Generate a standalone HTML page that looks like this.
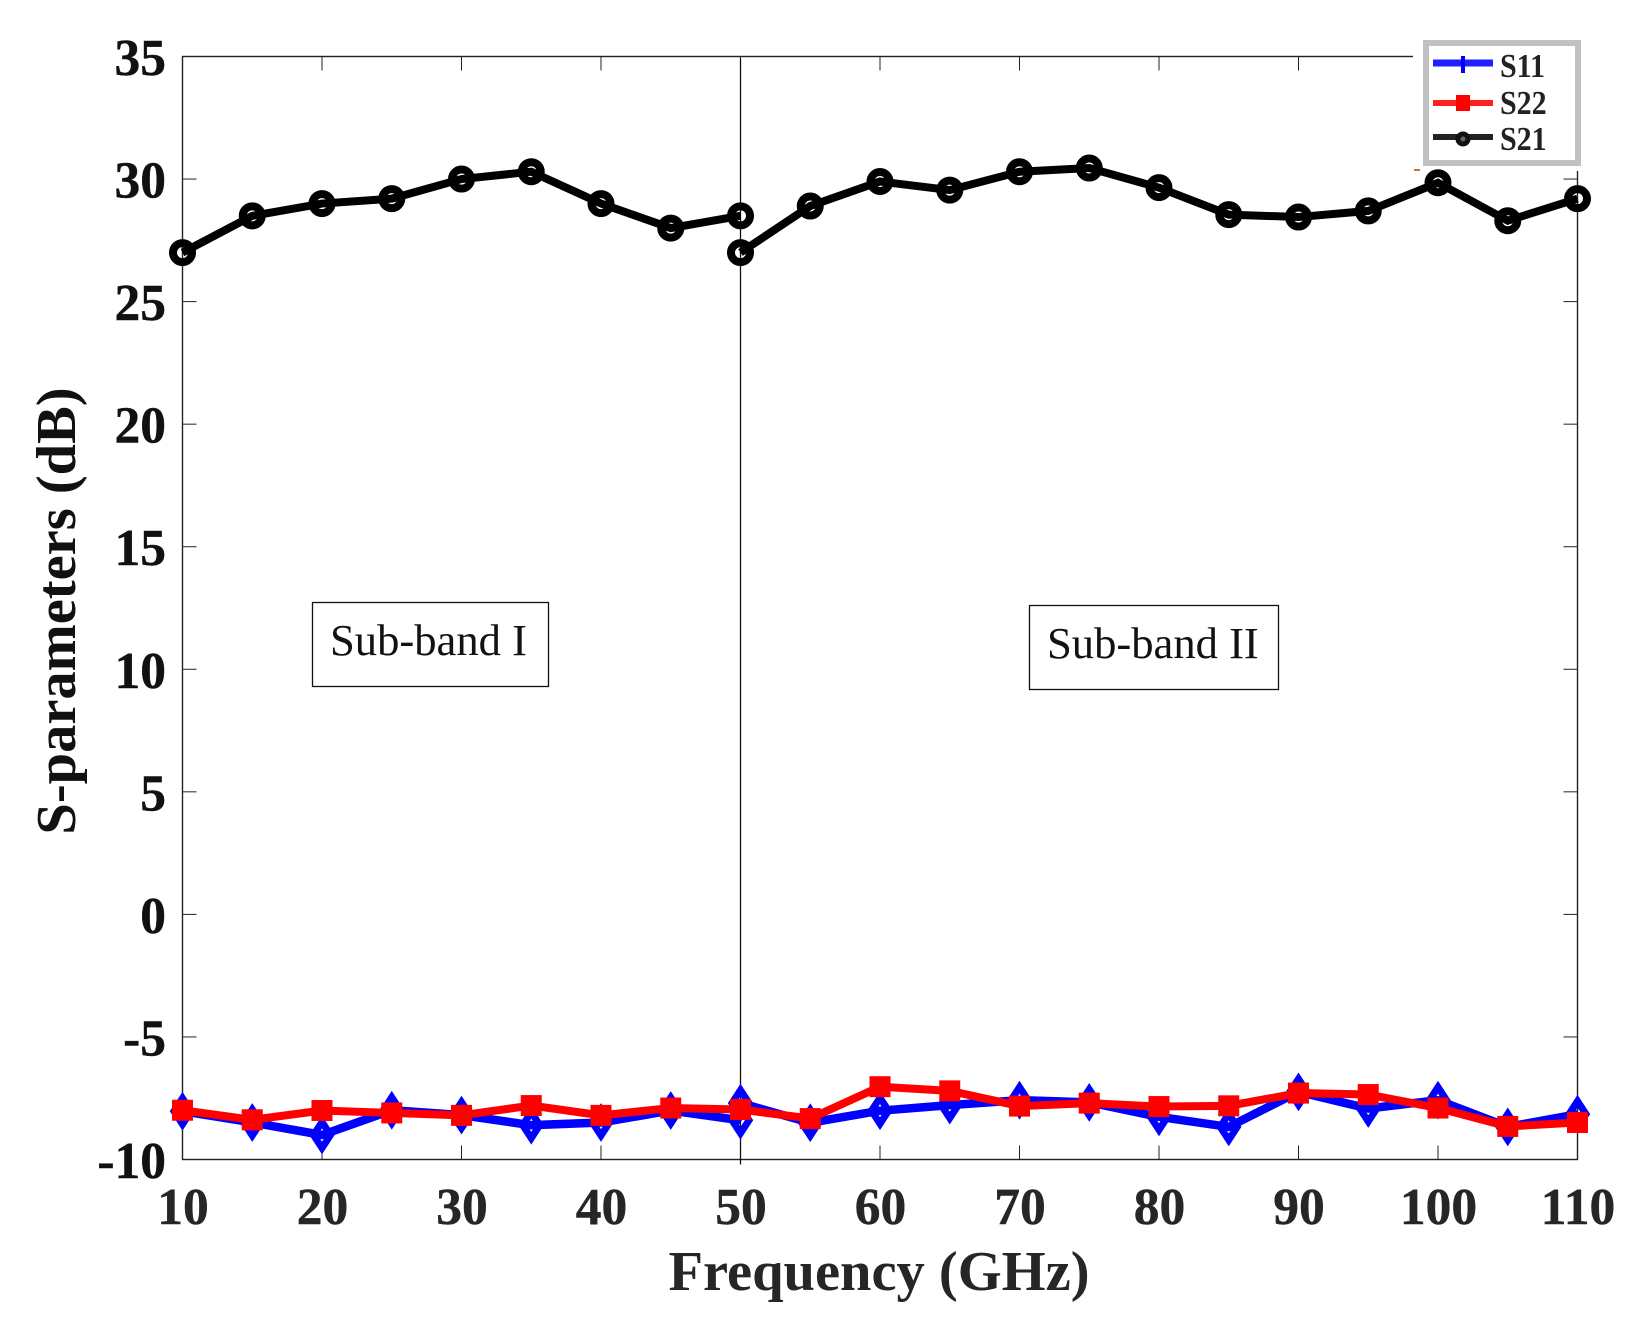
<!DOCTYPE html>
<html lang="en">
<head>
<meta charset="utf-8">
<title>S-parameters vs Frequency</title>
<style>
html,body{margin:0;padding:0;background:#fff;}
#chart{display:block;width:1637px;height:1330px;}
text{font-family:"Liberation Serif",serif;}
.tick{font-size:51.5px;font-weight:bold;stroke-width:0.4px;}
</style>
</head>
<body>
<svg id="chart" xmlns="http://www.w3.org/2000/svg" width="1637" height="1330" viewBox="0 0 1637 1330">
  <rect x="0" y="0" width="1637" height="1330" fill="#fff"/>
  <g id="axes"></g>
  <g id="series"></g>
  <text x="879" y="1290" text-anchor="middle" font-size="56.5" font-weight="bold" fill="#262626">Frequency (GHz)</text>
  <text transform="translate(75,611) rotate(-90)" text-anchor="middle" font-size="56.5" font-weight="bold" fill="#111">S-parameters (dB)</text>
  <g>
    <rect x="312.5" y="602.5" width="236" height="84" fill="#fff" stroke="#111" stroke-width="1.3"/>
    <text x="330" y="655" font-size="44.6" fill="#111">Sub-band I</text>
  </g>
  <g>
    <rect x="1029.5" y="605.5" width="249" height="84" fill="#fff" stroke="#111" stroke-width="1.3"/>
    <text x="1047" y="658" font-size="44.6" fill="#111">Sub-band II</text>
  </g>
  <rect x="1414" y="169" width="6" height="2" fill="#d2703c"/>
  <g id="legend">
    <rect x="1426" y="43" width="152" height="120" fill="#fff" stroke="#c2c2c2" stroke-width="6"/>
    <g>
      <line x1="1433" x2="1493" y1="63" y2="63" stroke="#1f1fff" stroke-width="7"/>
      <rect x="1461" y="56" width="4" height="17" fill="#0000ff"/>
      <text transform="translate(1500,77) scale(1,1.12)" font-size="30" font-weight="bold" fill="#222">S11</text>
    </g>
    <g>
      <line x1="1433" x2="1493" y1="103" y2="103" stroke="#ff1f1f" stroke-width="6"/>
      <rect x="1456" y="95" width="14" height="16" fill="#ff0000"/>
      <text transform="translate(1500,114) scale(1,1.12)" font-size="30" font-weight="bold" fill="#222">S22</text>
    </g>
    <g>
      <line x1="1433" x2="1493" y1="137" y2="137" stroke="#222" stroke-width="6"/>
      <circle cx="1463" cy="139" r="5" fill="#666" stroke="#111" stroke-width="5"/>
      <text transform="translate(1500,150) scale(1,1.12)" font-size="30" font-weight="bold" fill="#222">S21</text>
    </g>
  </g>
</svg>
<script>
const xTicks = [10,20,30,40,50,60,70,80,90,100,110];
const yTicks = [-10,-5,0,5,10,15,20,25,30,35];
const freqBand1 = [10,15,20,25,30,35,40,45,50];
const freqBand2 = [50,55,60,65,70,75,80,85,90,95,100,105,110];
const s21Band1 = [27,28.5,29,29.2,30,30.3,29,28,28.5];
const s21Band2 = [27,28.9,29.9,29.55,30.3,30.45,29.65,28.55,28.45,28.7,29.85,28.3,29.2];
const s11Band1 = [-8.03,-8.49,-9,-7.99,-8.19,-8.6,-8.49,-8,-8.4];
const s11Band2 = [-7.7,-8.5,-8.01,-7.78,-7.58,-7.67,-8.26,-8.67,-7.24,-7.92,-7.58,-8.67,-8.15];
const s22Band1 = [-7.99,-8.38,-8,-8.1,-8.2,-7.8,-8.2,-7.9,-7.96];
const s22Band2 = [-7.96,-8.33,-7.03,-7.2,-7.82,-7.7,-7.84,-7.81,-7.29,-7.35,-7.9,-8.65,-8.49];

const NS = 'http://www.w3.org/2000/svg';
const plot = {left:182.5,right:1577.5,top:56.5,bottom:1159.5,xMin:10,xMax:110,yMin:-10,yMax:35};
function xScale(v){return plot.left+(v-plot.xMin)/(plot.xMax-plot.xMin)*(plot.right-plot.left);}
function yScale(v){return plot.bottom-(v-plot.yMin)/(plot.yMax-plot.yMin)*(plot.bottom-plot.top);}
function make(tag,attrs,parent){
  const el=document.createElementNS(NS,tag);
  for(const k in attrs){el.setAttribute(k,attrs[k]);}
  parent.appendChild(el);
  return el;
}
const axes=document.getElementById('axes');
const seriesRoot=document.getElementById('series');
const axisColor='#222';

xTicks.forEach(function(t){
  const x=xScale(t);
  const bottomTick=make('line',{x1:x,x2:x,y1:plot.bottom,y2:plot.bottom-14,stroke:axisColor,'stroke-width':1},axes);
  
  
  const topTick=make('line',{x1:x,x2:x,y1:plot.top,y2:plot.top+14,stroke:axisColor,'stroke-width':1},axes);
  
  
  const label=make('text',{x:x+0.5,y:1224,'text-anchor':'middle','class':'tick',fill:'#262626',stroke:'#262626'},axes);
  label.textContent=String(t);
  
  
});
yTicks.forEach(function(t){
  const y=yScale(t);
  const leftTick=make('line',{x1:plot.left,x2:plot.left+14,y1:y,y2:y,stroke:axisColor,'stroke-width':1},axes);
  
  
  const rightTick=make('line',{x1:plot.right-14,x2:plot.right,y1:y,y2:y,stroke:axisColor,'stroke-width':1},axes);
  
  
  const label=make('text',{x:166,y:y+18.5,'text-anchor':'end','class':'tick',fill:'#111',stroke:'#111'},axes);
  label.textContent=String(t);
  
  
});
const frame=make('rect',{x:plot.left,y:plot.top,width:plot.right-plot.left,height:plot.bottom-plot.top,fill:'none',stroke:axisColor,'stroke-width':1.4},axes);


const legendMask=make('rect',{x:1413,y:38,width:180,height:133,fill:'#fff'},axes);


const divider=make('line',{x1:xScale(50),x2:xScale(50),y1:plot.top+2,y2:plot.bottom+5,stroke:'#111','stroke-width':1.3},axes);



function drawSeries(name,xs,ys,color,lineWidth,marker){
  const g=make('g',{},seriesRoot);
  
  
  const pts=xs.map(function(x,i){return xScale(x).toFixed(2)+','+yScale(ys[i]).toFixed(2);}).join(' ');
  const line=make('polyline',{points:pts,fill:'none',stroke:color,'stroke-width':lineWidth,'stroke-linejoin':'miter'},g);
  
  
  xs.forEach(function(x,i){
    const cx=xScale(x),cy=yScale(ys[i]);
    let m;
    if(marker==='diamond'){
      m=make('polygon',{points:(cx-8.5)+','+cy+' '+cx+','+(cy-13)+' '+(cx+8.5)+','+cy+' '+cx+','+(cy+13),fill:'none',stroke:color,'stroke-width':7,'stroke-miterlimit':8},g);
    }else if(marker==='square'){
      m=make('rect',{x:cx-10.5,y:cy-10.5,width:21,height:21,fill:color},g);
    }else{
      m=make('circle',{cx:cx,cy:cy,r:9.5,fill:'none',stroke:color,'stroke-width':8},g);
    }
    
    
  });
}
drawSeries('s21-band-1',freqBand1,s21Band1,'#000',8,'circle');
drawSeries('s21-band-2',freqBand2,s21Band2,'#000',8,'circle');
drawSeries('s11-band-1',freqBand1,s11Band1,'#0000ff',8.5,'diamond');
drawSeries('s11-band-2',freqBand2,s11Band2,'#0000ff',8.5,'diamond');
drawSeries('s22-band-1',freqBand1,s22Band1,'#ff0000',8,'square');
drawSeries('s22-band-2',freqBand2,s22Band2,'#ff0000',8,'square');
</script>
</body>
</html>
